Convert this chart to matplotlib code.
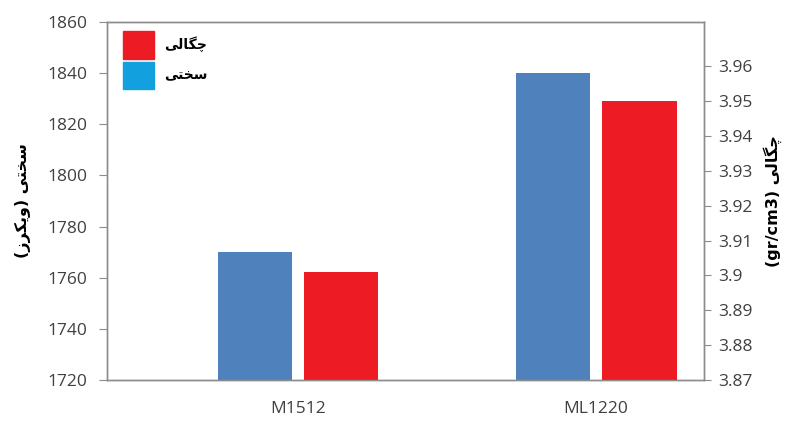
"""Hardness (Vickers) and density bars for two samples, twin y axes."""

import matplotlib
matplotlib.use("Agg")
import matplotlib.pyplot as plt
import numpy as np
from matplotlib.patches import Patch

# data
samples = ["M1512", "ML1220"]
hardness = [1770, 1840]        # سختی (ویکرز), left axis
density = [3.901, 3.95]        # چگالی (gr/cm3), right axis
hard_ticks = [1720, 1740, 1760, 1780, 1800, 1820, 1840, 1860]
dens_ticks = [3.87, 3.88, 3.89, 3.9, 3.91, 3.92, 3.93, 3.94, 3.95, 3.96]

# Persian labels, pre-shaped (presentation forms, visual order)
lbl_density = "\uFBFD\uFEDF\uFE8E\uFB95\uFB7C"          # چگالی
lbl_hardness = "\uFBFD\uFE98\uFEA8\uFEB3"               # سختی
ylabel_left = "(\uFEAF\uFEAE\uFB91\uFBFE\uFEED) " + lbl_hardness
ylabel_right = "(gr/cm3) " + lbl_density

BLUE = "#4F81BD"
RED = "#ED1C24"
LEG_BLUE = "#12A0DF"
GRID = "#8C8C8C"
TXT = "#404040"

plt.rcParams["font.family"] = ["Open Sans", "DejaVu Sans"]

fig = plt.figure(figsize=(7.9, 4.29), dpi=100)
ax = fig.add_axes([0.1354, 0.1142, 0.7557, 0.8345])
ax2 = ax.twinx()

x = np.arange(len(samples))
w = 0.25
ax.bar(x - 0.145, hardness, width=w, color=BLUE, zorder=2)
ax2.bar(x + 0.145, density, width=w, color=RED, zorder=2)

ax.set_xlim(-0.641, 1.362)
ax.set_ylim(1720, 1860)
ax.set_yticks(hard_ticks)
ax2.set_ylim(3.87, 3.9727)
ax2.set_yticks(dens_ticks)
ax2.set_yticklabels([f"{t:g}" for t in dens_ticks])

ax.set_xticks(x)
ax.set_xticklabels(samples)
ax.tick_params(axis="x", length=0, pad=15, labelsize=12.5, colors=TXT)
ax.tick_params(axis="y", length=6, pad=8, labelsize=12.5, colors=TXT, color=GRID)
ax2.tick_params(axis="y", length=5, pad=5, labelsize=12.5, colors=TXT, color=GRID)

for a in (ax, ax2):
    for s in a.spines.values():
        s.set_color(GRID)
        s.set_linewidth(1.0)

ax.set_ylabel(ylabel_left, family=["DejaVu Sans"], fontweight="bold",
              fontsize=11.5, color="black", labelpad=12)
ax2.set_ylabel(ylabel_right, family=["DejaVu Sans"], fontweight="bold",
               fontsize=11.5, color="black", rotation=90, labelpad=8)

handles = [Patch(color=RED, label=lbl_density),
           Patch(color=LEG_BLUE, label=lbl_hardness)]
leg = ax.legend(handles=handles, loc="upper left", frameon=False,
                bbox_to_anchor=(0.012, 1.0),
                prop={"family": "DejaVu Sans", "weight": "bold", "size": 10},
                handlelength=2.25, handleheight=2.7, handletextpad=0.7,
                labelspacing=0.2, borderaxespad=0.25)

fig.savefig("out.png", dpi=100)
